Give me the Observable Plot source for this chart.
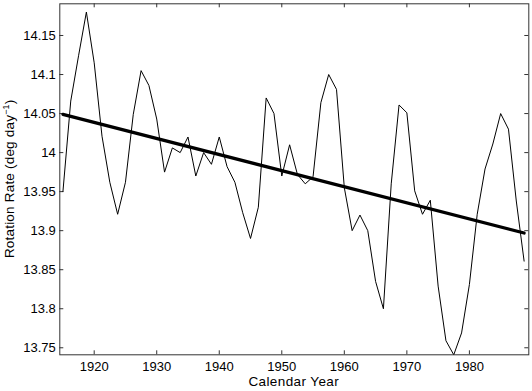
<!DOCTYPE html>
<html>
<head>
<meta charset="utf-8">
<script src="https://cdn.jsdelivr.net/npm/d3@7"></script>
<script src="https://cdn.jsdelivr.net/npm/@observablehq/plot@0.6"></script>
<style>
  html, body { margin: 0; padding: 0; background: #fff; }
  #chart svg { display: block; font-family: "Liberation Sans", Arial, Helvetica, sans-serif; }
</style>
</head>
<body>
<div id="chart"></div>
<script>
// Observation epochs (calendar year)
const years = [
  1915, 1916.25, 1917.5, 1918.75, 1920, 1921.25, 1922.5, 1923.75, 1925, 1926.25,
  1927.5, 1928.75, 1930, 1931.25, 1932.5, 1933.75, 1935, 1936.25, 1937.5, 1938.75,
  1940, 1941.25, 1942.5, 1943.75, 1945, 1946.25, 1947.5, 1948.75, 1950, 1951.25,
  1952.5, 1953.75, 1955, 1956.25, 1957.5, 1958.75, 1960, 1961.25, 1962.5, 1963.75,
  1965, 1966.25, 1967.5, 1968.75, 1970, 1971.25, 1972.5, 1973.75, 1975, 1976.25,
  1977.5, 1978.75, 1980, 1981.25, 1982.5, 1983.75, 1985, 1986.25, 1987.5, 1988.75
];
// Rotation rate (deg/day)
const rates = [
  13.950, 14.066, 14.124, 14.180, 14.115, 14.021, 13.962, 13.921, 13.962, 14.049,
  14.105, 14.086, 14.043, 13.975, 14.006, 14.000, 14.020, 13.970, 14.000, 13.985,
  14.020, 13.982, 13.962, 13.923, 13.890, 13.930, 14.070, 14.050, 13.970, 14.010,
  13.972, 13.960, 13.969, 14.064, 14.100, 14.081, 13.955, 13.900, 13.920, 13.900,
  13.835, 13.800, 13.960, 14.061, 14.051, 13.951, 13.921, 13.939, 13.829, 13.759,
  13.741, 13.769, 13.831, 13.921, 13.979, 14.011, 14.050, 14.030, 13.938, 13.861
];
// Linear trend end points
const trendYears = [1915, 1988.75];
const trendRates = [14.049, 13.897];

const xTicks = [1920, 1930, 1940, 1950, 1960, 1970, 1980];
const xTickLabels = ["1920", "1930", "1940", "1950", "1960", "1970", "1980"];
const yTicks = [13.75, 13.8, 13.85, 13.9, 13.95, 14, 14.05, 14.1, 14.15];
const yTickLabels = ["13.75", "13.8", "13.85", "13.9", "13.95", "14", "14.05", "14.1", "14.15"];

const xLabel = "Calendar Year";

const series = years.map((y, i) => ({year: y, rate: rates[i]}));
const trend = trendYears.map((y, i) => ({year: y, rate: trendRates[i]}));

const W = 532, H = 391;
const mT = 3.3, mB = 36.7, mL = 59.3, mR = 3.7;
const innerH = H - mT - mB;
const innerW = W - mL - mR;
const tk = 4;

const plot = Plot.plot({
  width: W,
  height: H,
  marginTop: mT,
  marginBottom: mB,
  marginLeft: mL,
  marginRight: mR,
  style: {fontSize: "13px", fontFamily: "Liberation Sans, Arial, sans-serif", color: "#000", background: "#fff", overflow: "visible"},
  x: {domain: [1914.5, 1989.5]},
  y: {domain: [13.741, 14.1906]},
  marks: [
    Plot.axisX(xTicks, {tickSize: 0, tickPadding: 7, tickFormat: (d, i) => xTickLabels[i], label: null, fill: "#000"}),
    Plot.axisY(yTicks, {tickSize: 0, tickPadding: 4, tickFormat: (d, i) => yTickLabels[i], label: null, fill: "#000"}),
    // inward ticks, MATLAB style
    Plot.ruleX(xTicks, {x: d => d, insetTop: innerH - tk, stroke: "#333", strokeWidth: 1}),
    Plot.ruleX(xTicks, {x: d => d, insetBottom: innerH - tk, stroke: "#333", strokeWidth: 1}),
    Plot.ruleY(yTicks, {y: d => d, insetRight: innerW - tk, stroke: "#333", strokeWidth: 1}),
    Plot.ruleY(yTicks, {y: d => d, insetLeft: innerW - tk, stroke: "#333", strokeWidth: 1}),
    Plot.lineY(series, {x: "year", y: "rate", stroke: "#000", strokeWidth: 1}),
    Plot.line(trend, {x: "year", y: "rate", stroke: "#000", strokeWidth: 3.2}),
    Plot.frame({stroke: "#333", strokeWidth: 1})
  ]
});

document.getElementById("chart").appendChild(plot);

const svg = d3.select(plot);
// x-axis title
svg.append("text")
  .attr("x", mL + innerW / 2)
  .attr("y", 385.5)
  .attr("text-anchor", "middle")
  .attr("font-size", 13.5)
  .attr("letter-spacing", 0.4)
  .attr("fill", "#000")
  .text(xLabel);
// y-axis title with superscript
const yt = svg.append("text")
  .attr("transform", `translate(14, ${mT + innerH / 2}) rotate(-90)`)
  .attr("text-anchor", "middle")
  .attr("font-size", 13.5)
  .attr("letter-spacing", 0.2)
  .attr("fill", "#000");
yt.append("tspan").text("Rotation Rate (deg day");
yt.append("tspan").attr("font-size", 9).attr("dy", -5).text("\u22121");
yt.append("tspan").attr("dy", 5).text(")");
</script>
</body>
</html>
